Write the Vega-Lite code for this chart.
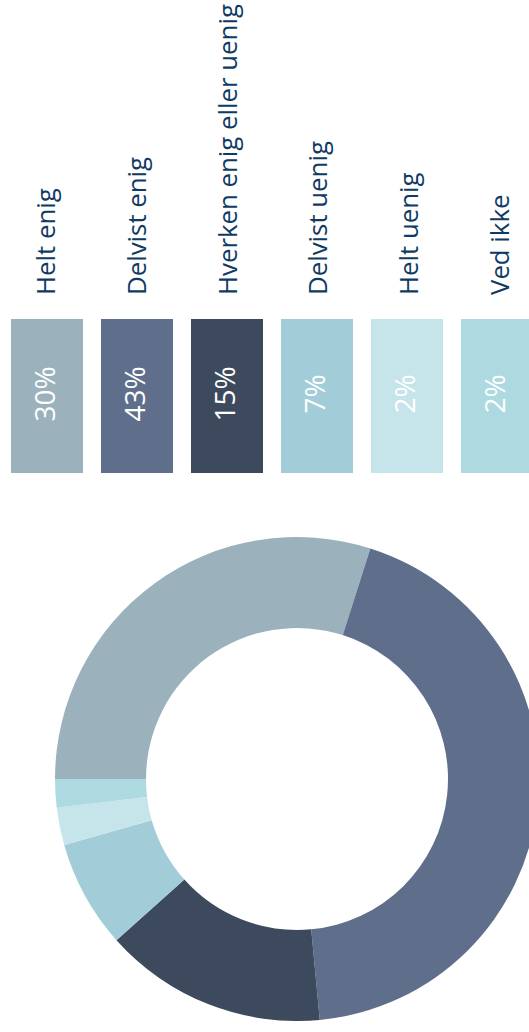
{
  "$schema": "https://vega.github.io/schema/vega-lite/v6.json",
  "padding": 0,
  "background": "white",
  "spacing": 64,
  "bounds": "flush",
  "config": {"view": {"stroke": null}, "font": "Open Sans"},
  "data": {"values": [
    {"cat": "Helt enig", "value": 29.9, "label": "30%", "ord": 1},
    {"cat": "Delvist enig", "value": 43.6, "label": "43%", "ord": 2},
    {"cat": "Hverken enig eller uenig", "value": 14.9, "label": "15%", "ord": 3},
    {"cat": "Delvist uenig", "value": 7.2, "label": "7%", "ord": 4},
    {"cat": "Helt uenig", "value": 2.5, "label": "2%", "ord": 5},
    {"cat": "Ved ikke", "value": 1.9, "label": "2%", "ord": 6}
  ]},
  "vconcat": [
    {
      "width": 544,
      "height": 255,
      "mark": {"type": "text", "angle": 270, "align": "left", "baseline": "middle", "fontSize": 25.8, "color": "#0f3a63", "dx": -40, "dy": 2},
      "encoding": {
        "x": {"field": "cat", "type": "nominal", "sort": null, "axis": null, "scale": {"paddingInner": 0.2, "paddingOuter": 0.1222}},
        "y": {"value": "height"},
        "text": {"field": "cat"}
      }
    },
    {
      "width": 544,
      "height": 154,
      "encoding": {
        "x": {"field": "cat", "type": "nominal", "sort": null, "axis": null, "scale": {"paddingInner": 0.2, "paddingOuter": 0.1222}}
      },
      "layer": [
        {
          "mark": {"type": "bar"},
          "encoding": {
            "color": {"field": "cat", "type": "nominal", "legend": null,
              "scale": {"domain": ["Helt enig", "Delvist enig", "Hverken enig eller uenig", "Delvist uenig", "Helt uenig", "Ved ikke"],
                        "range": ["#9bb2bd", "#5f6f8b", "#3d4a5e", "#a3ccd9", "#c6e5ea", "#addae1"]}}
          }
        },
        {
          "mark": {"type": "text", "angle": 270, "align": "center", "baseline": "middle", "fontSize": 28, "fontWeight": 400, "color": "white", "dx": 2},
          "encoding": {"text": {"field": "label"}}
        }
      ]
    },
    {
      "width": 594,
      "height": 484,
      "mark": {"type": "arc", "innerRadius": 151, "outerRadius": 242},
      "encoding": {
        "theta": {"field": "value", "type": "quantitative", "scale": {"range": [4.712389, 10.995574]}},
        "order": {"field": "ord", "type": "quantitative"},
        "color": {"field": "cat", "type": "nominal", "legend": null,
          "scale": {"domain": ["Helt enig", "Delvist enig", "Hverken enig eller uenig", "Delvist uenig", "Helt uenig", "Ved ikke"],
                    "range": ["#9bb2bd", "#5f6f8b", "#3d4a5e", "#a3ccd9", "#c6e5ea", "#addae1"]}}
      }
    }
  ]
}
